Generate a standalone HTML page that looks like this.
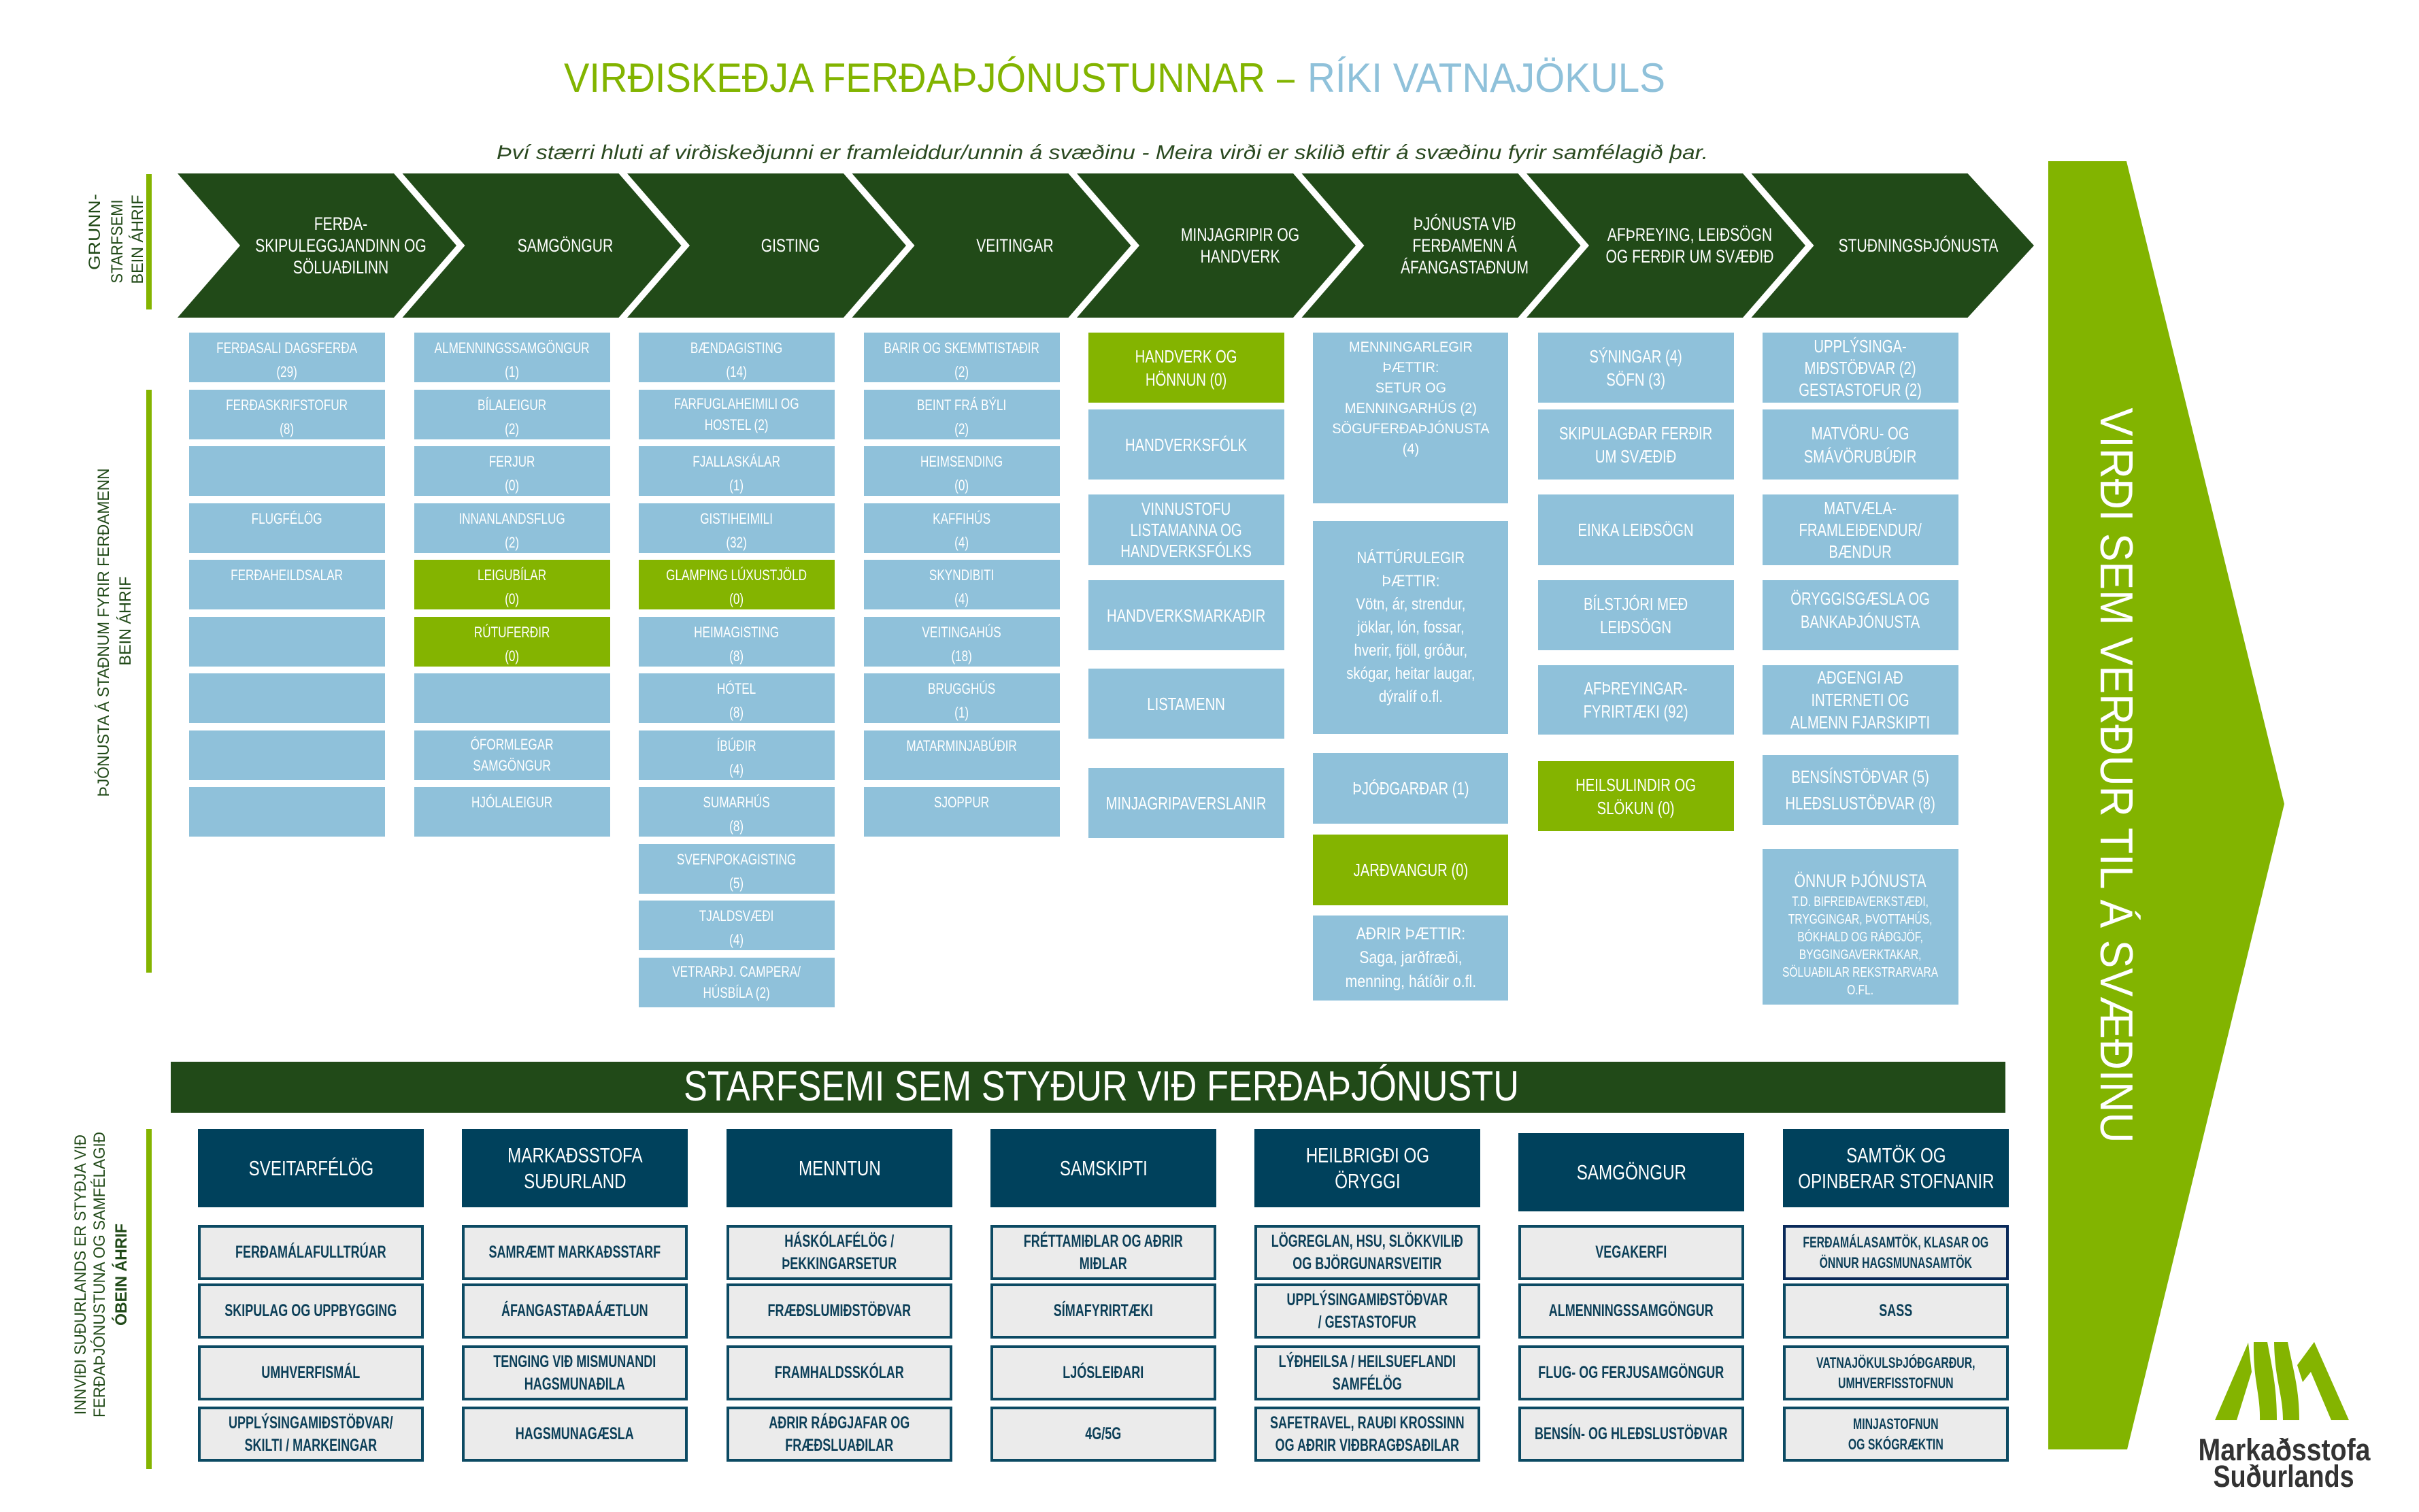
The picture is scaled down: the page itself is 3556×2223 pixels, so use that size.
<!DOCTYPE html>
<html><head><meta charset="utf-8">
<style>
html,body{margin:0;padding:0;background:#fff}
body{width:3556px;height:2223px;position:relative;overflow:hidden;font-family:"Liberation Sans",sans-serif}
svg{position:absolute;left:0;top:0}
.b{position:absolute;display:flex;justify-content:center;align-items:center;color:#fff;text-align:center;white-space:nowrap;box-sizing:border-box}
.b>span{flex:none;width:140%;display:block;transform:scaleX(.78)}
.lb{background:#8fc1da}
.gr{background:#84b400}
.s{align-items:flex-start;font-size:22px;line-height:35px;padding-top:5px;height:73px;width:288px}
.s.c{align-items:center;padding-top:0;line-height:31px}
.m{font-size:26px;line-height:34px;width:288px}
.ch{font-size:27px;line-height:32px;width:300px;height:160px;top:281px}
.hd{background:#00415c;font-size:31px;line-height:38px;width:332px;height:115px;top:1660px}
.sb{background:#ebebeb;border:4px solid #0c4a63;color:#0c3f58;font-size:25px;font-weight:bold;line-height:33px;width:332px;height:81px}
.sb>span{transform:scaleX(.72)}
</style></head><body>
<svg width="3556" height="2223" viewBox="0 0 3556 2223">
<text x="829" y="135" font-size="60" fill="#82b400" textLength="1031" lengthAdjust="spacingAndGlyphs">VIRÐISKEÐJA FERÐAÞJÓNUSTUNNAR</text>
<text x="1877" y="135" font-size="60" fill="#82b400" textLength="26" lengthAdjust="spacingAndGlyphs">–</text>
<text x="1922" y="135" font-size="60" fill="#8fc1da" textLength="526" lengthAdjust="spacingAndGlyphs">RÍKI VATNAJÖKULS</text>
<text x="730" y="234" font-size="30" font-style="italic" fill="#2b4a21" textLength="1781" lengthAdjust="spacingAndGlyphs">Því stærri hluti af virðiskeðjunni er framleiddur/unnin á svæðinu - Meira virði er skilið eftir á svæðinu fyrir samfélagið þar.</text>
<g fill="#214a18">
<polygon points="261,255 579,255 671,361 579,467 261,467 353,361"/>
<polygon points="591.5,255 909.5,255 1001.5,361 909.5,467 591.5,467 683.5,361"/>
<polygon points="922,255 1240,255 1332,361 1240,467 922,467 1014,361"/>
<polygon points="1252.5,255 1570.5,255 1662.5,361 1570.5,467 1252.5,467 1344.5,361"/>
<polygon points="1583,255 1901,255 1993,361 1901,467 1583,467 1675,361"/>
<polygon points="1913.5,255 2231.5,255 2323.5,361 2231.5,467 1913.5,467 2005.5,361"/>
<polygon points="2244,255 2562,255 2654,361 2562,467 2244,467 2336,361"/>
<polygon points="2574.5,255 2892.5,255 2990,361 2892.5,467 2574.5,467 2666.5,361"/>
</g>
<polygon points="3011,237 3126,237 3358,1182 3127,2131 3011,2131" fill="#82b400"/>
<text transform="translate(3088,1140) rotate(90)" text-anchor="middle" font-size="68" fill="#fff" textLength="1081" lengthAdjust="spacingAndGlyphs">VIRÐI SEM VERÐUR TIL Á SVÆÐINU</text>
<g fill="#84b400">
<rect x="215" y="256" width="8" height="199"/>
<rect x="215" y="573" width="8" height="857"/>
<rect x="215" y="1660" width="8" height="500"/>
</g>
<g fill="#214a18" font-size="24">
<text transform="translate(147,341) rotate(-90)" text-anchor="middle" textLength="112" lengthAdjust="spacingAndGlyphs">GRUNN-</text>
<text transform="translate(180,355) rotate(-90)" text-anchor="middle" textLength="123" lengthAdjust="spacingAndGlyphs">STARFSEMI</text>
<text transform="translate(210,352) rotate(-90)" text-anchor="middle" textLength="131" lengthAdjust="spacingAndGlyphs">BEIN ÁHRIF</text>
<text transform="translate(160,930) rotate(-90)" text-anchor="middle" textLength="483" lengthAdjust="spacingAndGlyphs">ÞJÓNUSTA Á STAÐNUM FYRIR FERÐAMENN</text>
<text transform="translate(192,913) rotate(-90)" text-anchor="middle" textLength="131" lengthAdjust="spacingAndGlyphs">BEIN ÁHRIF</text>
<text transform="translate(126,1874) rotate(-90)" text-anchor="middle" textLength="412" lengthAdjust="spacingAndGlyphs">INNVIÐI SUÐURLANDS ER STYÐJA VIÐ</text>
<text transform="translate(154,1874) rotate(-90)" text-anchor="middle" textLength="420" lengthAdjust="spacingAndGlyphs">FERÐAÞJÓNUSTUNA OG SAMFÉLAGIÐ</text>
<text transform="translate(186,1874) rotate(-90)" text-anchor="middle" font-weight="bold" textLength="150" lengthAdjust="spacingAndGlyphs">ÓBEIN ÁHRIF</text>
</g>
<rect x="251" y="1561" width="2697" height="75" fill="#214a18"/>
<text x="1619" y="1618" text-anchor="middle" font-size="62" fill="#fff" textLength="1228" lengthAdjust="spacingAndGlyphs">STARFSEMI SEM STYÐUR VIÐ FERÐAÞJÓNUSTU</text>
<g fill="#84b400">
<polygon points="3256,2088 3305,1974 3310,2017 3288,2088"/>
<path d="M3313,1973 L3333,1973 C3340,2010 3347,2040 3347,2088 L3322,2088 C3323,2050 3312,2030 3313,1973 Z"/>
<path d="M3343,1973 L3363,1973 C3370,2010 3380,2040 3380,2088 L3356,2088 C3356,2050 3344,2030 3343,1973 Z"/>
<polygon points="3377,2007 3402,1973 3453,2088 3427,2088 3397,2017 3385,2032"/>
</g>
<text x="3358" y="2147" text-anchor="middle" font-size="45" font-weight="bold" fill="#333" textLength="253" lengthAdjust="spacingAndGlyphs">Markaðsstofa</text>
<text x="3357" y="2186" text-anchor="middle" font-size="45" font-weight="bold" fill="#333" textLength="207" lengthAdjust="spacingAndGlyphs">Suðurlands</text>
</svg>

<div class="b ch" style="left:351px"><span>FERÐA-<br>SKIPULEGGJANDINN OG<br>SÖLUAÐILINN</span></div>
<div class="b ch" style="left:681px"><span>SAMGÖNGUR</span></div>
<div class="b ch" style="left:1012px"><span>GISTING</span></div>
<div class="b ch" style="left:1342px"><span>VEITINGAR</span></div>
<div class="b ch" style="left:1673px"><span>MINJAGRIPIR OG<br>HANDVERK</span></div>
<div class="b ch" style="left:2003px"><span>ÞJÓNUSTA VIÐ<br>FERÐAMENN Á<br>ÁFANGASTAÐNUM</span></div>
<div class="b ch" style="left:2334px"><span>AFÞREYING, LEIÐSÖGN<br>OG FERÐIR UM SVÆÐIÐ</span></div>
<div class="b ch" style="left:2670px"><span>STUÐNINGSÞJÓNUSTA</span></div>

<div class="b s lb" style="left:278px;top:489px"><span>FERÐASALI DAGSFERÐA<br>(29)</span></div>
<div class="b s lb" style="left:278px;top:572.5px"><span>FERÐASKRIFSTOFUR<br>(8)</span></div>
<div class="b s lb" style="left:278px;top:656px"><span></span></div>
<div class="b s lb" style="left:278px;top:739.5px"><span>FLUGFÉLÖG</span></div>
<div class="b s lb" style="left:278px;top:823px"><span>FERÐAHEILDSALAR</span></div>
<div class="b s lb" style="left:278px;top:906.5px"><span></span></div>
<div class="b s lb" style="left:278px;top:990px"><span></span></div>
<div class="b s lb" style="left:278px;top:1073.5px"><span></span></div>
<div class="b s lb" style="left:278px;top:1157px"><span></span></div>

<div class="b s lb" style="left:608.5px;top:489px"><span>ALMENNINGSSAMGÖNGUR<br>(1)</span></div>
<div class="b s lb" style="left:608.5px;top:572.5px"><span>BÍLALEIGUR<br>(2)</span></div>
<div class="b s lb" style="left:608.5px;top:656px"><span>FERJUR<br>(0)</span></div>
<div class="b s lb" style="left:608.5px;top:739.5px"><span>INNANLANDSFLUG<br>(2)</span></div>
<div class="b s gr" style="left:608.5px;top:823px"><span>LEIGUBÍLAR<br>(0)</span></div>
<div class="b s gr" style="left:608.5px;top:906.5px"><span>RÚTUFERÐIR<br>(0)</span></div>
<div class="b s lb" style="left:608.5px;top:990px"><span></span></div>
<div class="b s c lb" style="left:608.5px;top:1073.5px"><span>ÓFORMLEGAR<br>SAMGÖNGUR</span></div>
<div class="b s lb" style="left:608.5px;top:1157px"><span>HJÓLALEIGUR</span></div>

<div class="b s lb" style="left:939px;top:489px"><span>BÆNDAGISTING<br>(14)</span></div>
<div class="b s c lb" style="left:939px;top:572.5px;align-items:flex-start;padding-top:5px"><span>FARFUGLAHEIMILI OG<br>HOSTEL (2)</span></div>
<div class="b s lb" style="left:939px;top:656px"><span>FJALLASKÁLAR<br>(1)</span></div>
<div class="b s lb" style="left:939px;top:739.5px"><span>GISTIHEIMILI<br>(32)</span></div>
<div class="b s gr" style="left:939px;top:823px"><span>GLAMPING LÚXUSTJÖLD<br>(0)</span></div>
<div class="b s lb" style="left:939px;top:906.5px"><span>HEIMAGISTING<br>(8)</span></div>
<div class="b s lb" style="left:939px;top:990px"><span>HÓTEL<br>(8)</span></div>
<div class="b s lb" style="left:939px;top:1073.5px"><span>ÍBÚÐIR<br>(4)</span></div>
<div class="b s lb" style="left:939px;top:1157px"><span>SUMARHÚS<br>(8)</span></div>
<div class="b s lb" style="left:939px;top:1240.5px"><span>SVEFNPOKAGISTING<br>(5)</span></div>
<div class="b s lb" style="left:939px;top:1324px"><span>TJALDSVÆÐI<br>(4)</span></div>
<div class="b s c lb" style="left:939px;top:1407.5px"><span>VETRARÞJ. CAMPERA/<br>HÚSBÍLA (2)</span></div>

<div class="b s lb" style="left:1269.5px;top:489px"><span>BARIR OG SKEMMTISTAÐIR<br>(2)</span></div>
<div class="b s lb" style="left:1269.5px;top:572.5px"><span>BEINT FRÁ BÝLI<br>(2)</span></div>
<div class="b s lb" style="left:1269.5px;top:656px"><span>HEIMSENDING<br>(0)</span></div>
<div class="b s lb" style="left:1269.5px;top:739.5px"><span>KAFFIHÚS<br>(4)</span></div>
<div class="b s lb" style="left:1269.5px;top:823px"><span>SKYNDIBITI<br>(4)</span></div>
<div class="b s lb" style="left:1269.5px;top:906.5px"><span>VEITINGAHÚS<br>(18)</span></div>
<div class="b s lb" style="left:1269.5px;top:990px"><span>BRUGGHÚS<br>(1)</span></div>
<div class="b s lb" style="left:1269.5px;top:1073.5px"><span>MATARMINJABÚÐIR</span></div>
<div class="b s lb" style="left:1269.5px;top:1157px"><span>SJOPPUR</span></div>

<div class="b m gr" style="left:1600px;top:489px;height:103px"><span>HANDVERK OG<br>HÖNNUN (0)</span></div>
<div class="b m lb" style="left:1600px;top:602px;height:103px"><span>HANDVERKSFÓLK</span></div>
<div class="b m lb" style="left:1600px;top:727px;height:104px;line-height:31px"><span>VINNUSTOFU<br>LISTAMANNA OG<br>HANDVERKSFÓLKS</span></div>
<div class="b m lb" style="left:1600px;top:853px;height:103px"><span>HANDVERKSMARKAÐIR</span></div>
<div class="b m lb" style="left:1600px;top:983px;height:103px"><span>LISTAMENN</span></div>
<div class="b m lb" style="left:1600px;top:1129px;height:103px"><span>MINJAGRIPAVERSLANIR</span></div>

<div class="b lb" style="left:1930px;top:489px;width:287px;height:251px;align-items:flex-start;padding-top:7px;font-size:21px;line-height:30px"><span style="transform:scaleX(.95)">MENNINGARLEGIR<br>ÞÆTTIR:<br>SETUR OG<br>MENNINGARHÚS (2)<br>SÖGUFERÐAÞJÓNUSTA<br>(4)</span></div>
<div class="b lb" style="left:1930px;top:766px;width:287px;height:313px;font-size:24px;line-height:34px"><span style="transform:scaleX(.85)">NÁTTÚRULEGIR<br>ÞÆTTIR:<br>Vötn, ár, strendur,<br>jöklar, lón, fossar,<br>hverir, fjöll, gróður,<br>skógar, heitar laugar,<br>dýralíf o.fl.</span></div>
<div class="b m lb" style="left:1930px;top:1107px;height:104px;width:287px"><span>ÞJÓÐGARÐAR (1)</span></div>
<div class="b m gr" style="left:1930px;top:1227px;height:104px;width:287px"><span>JARÐVANGUR (0)</span></div>
<div class="b lb" style="left:1930px;top:1346px;width:287px;height:125px;font-size:25px;line-height:35px"><span style="transform:scaleX(.85)">AÐRIR ÞÆTTIR:<br>Saga, jarðfræði,<br>menning, hátíðir o.fl.</span></div>

<div class="b m lb" style="left:2261px;top:489px;height:103px"><span>SÝNINGAR (4)<br>SÖFN (3)</span></div>
<div class="b m lb" style="left:2261px;top:602px;height:103px"><span>SKIPULAGÐAR FERÐIR<br>UM SVÆÐIÐ</span></div>
<div class="b m lb" style="left:2261px;top:727px;height:104px"><span>EINKA LEIÐSÖGN</span></div>
<div class="b m lb" style="left:2261px;top:853px;height:103px"><span>BÍLSTJÓRI MEÐ<br>LEIÐSÖGN</span></div>
<div class="b m lb" style="left:2261px;top:978px;height:102px"><span>AFÞREYINGAR-<br>FYRIRTÆKI (92)</span></div>
<div class="b m gr" style="left:2261px;top:1119px;height:103px"><span>HEILSULINDIR OG<br>SLÖKUN (0)</span></div>

<div class="b m lb" style="left:2591px;top:489px;height:103px;line-height:32px"><span>UPPLÝSINGA-<br>MIÐSTÖÐVAR (2)<br>GESTASTOFUR (2)</span></div>
<div class="b m lb" style="left:2591px;top:602px;height:103px"><span>MATVÖRU- OG<br>SMÁVÖRUBÚÐIR</span></div>
<div class="b m lb" style="left:2591px;top:727px;height:104px;line-height:32px"><span>MATVÆLA-<br>FRAMLEIÐENDUR/<br>BÆNDUR</span></div>
<div class="b m lb" style="left:2591px;top:853px;height:103px;align-items:flex-start;padding-top:10px"><span>ÖRYGGISGÆSLA OG<br>BANKAÞJÓNUSTA</span></div>
<div class="b m lb" style="left:2591px;top:978px;height:102px;line-height:33px"><span>AÐGENGI AÐ<br>INTERNETI OG<br>ALMENN FJARSKIPTI</span></div>
<div class="b m lb" style="left:2591px;top:1110px;height:103px;line-height:39px"><span>BENSÍNSTÖÐVAR (5)<br>HLEÐSLUSTÖÐVAR (8)</span></div>
<div class="b lb" style="left:2591px;top:1248px;width:288px;height:229px;font-size:20px;line-height:26px;padding-top:20px"><span><span style="font-size:27px;line-height:36px">ÖNNUR ÞJÓNUSTA</span><br>T.D. BIFREIÐAVERKSTÆÐI,<br>TRYGGINGAR, ÞVOTTAHÚS,<br>BÓKHALD OG RÁÐGJÖF,<br>BYGGINGAVERKTAKAR,<br>SÖLUAÐILAR REKSTRARVARA<br>O.FL.</span></div>

<div class="b hd" style="left:291px"><span>SVEITARFÉLÖG</span></div>
<div class="b hd" style="left:679px"><span>MARKAÐSSTOFA<br>SUÐURLAND</span></div>
<div class="b hd" style="left:1068px"><span>MENNTUN</span></div>
<div class="b hd" style="left:1456px"><span>SAMSKIPTI</span></div>
<div class="b hd" style="left:1844px"><span>HEILBRIGÐI OG<br>ÖRYGGI</span></div>
<div class="b hd" style="left:2232px;top:1666px"><span>SAMGÖNGUR</span></div>
<div class="b hd" style="left:2621px"><span>SAMTÖK OG<br>OPINBERAR STOFNANIR</span></div>

<div class="b sb" style="left:291px;top:1801px"><span>FERÐAMÁLAFULLTRÚAR</span></div>
<div class="b sb" style="left:291px;top:1887px"><span>SKIPULAG OG UPPBYGGING</span></div>
<div class="b sb" style="left:291px;top:1978px"><span>UMHVERFISMÁL</span></div>
<div class="b sb" style="left:291px;top:2068px"><span>UPPLÝSINGAMIÐSTÖÐVAR/<br>SKILTI / MARKEINGAR</span></div>

<div class="b sb" style="left:679px;top:1801px"><span>SAMRÆMT MARKAÐSSTARF</span></div>
<div class="b sb" style="left:679px;top:1887px"><span>ÁFANGASTAÐAÁÆTLUN</span></div>
<div class="b sb" style="left:679px;top:1978px"><span>TENGING VIÐ MISMUNANDI<br>HAGSMUNAÐILA</span></div>
<div class="b sb" style="left:679px;top:2068px"><span>HAGSMUNAGÆSLA</span></div>

<div class="b sb" style="left:1068px;top:1801px"><span>HÁSKÓLAFÉLÖG /<br>ÞEKKINGARSETUR</span></div>
<div class="b sb" style="left:1068px;top:1887px"><span>FRÆÐSLUMIÐSTÖÐVAR</span></div>
<div class="b sb" style="left:1068px;top:1978px"><span>FRAMHALDSSKÓLAR</span></div>
<div class="b sb" style="left:1068px;top:2068px"><span>AÐRIR RÁÐGJAFAR OG<br>FRÆÐSLUAÐILAR</span></div>

<div class="b sb" style="left:1456px;top:1801px"><span>FRÉTTAMIÐLAR OG AÐRIR<br>MIÐLAR</span></div>
<div class="b sb" style="left:1456px;top:1887px"><span>SÍMAFYRIRTÆKI</span></div>
<div class="b sb" style="left:1456px;top:1978px"><span>LJÓSLEIÐARI</span></div>
<div class="b sb" style="left:1456px;top:2068px"><span>4G/5G</span></div>

<div class="b sb" style="left:1844px;top:1801px"><span>LÖGREGLAN, HSU, SLÖKKVILIÐ<br>OG BJÖRGUNARSVEITIR</span></div>
<div class="b sb" style="left:1844px;top:1887px"><span>UPPLÝSINGAMIÐSTÖÐVAR<br>/ GESTASTOFUR</span></div>
<div class="b sb" style="left:1844px;top:1978px"><span>LÝÐHEILSA / HEILSUEFLANDI<br>SAMFÉLÖG</span></div>
<div class="b sb" style="left:1844px;top:2068px"><span>SAFETRAVEL, RAUÐI KROSSINN<br>OG AÐRIR VIÐBRAGÐSAÐILAR</span></div>

<div class="b sb" style="left:2232px;top:1801px"><span>VEGAKERFI</span></div>
<div class="b sb" style="left:2232px;top:1887px"><span>ALMENNINGSSAMGÖNGUR</span></div>
<div class="b sb" style="left:2232px;top:1978px"><span>FLUG- OG FERJUSAMGÖNGUR</span></div>
<div class="b sb" style="left:2232px;top:2068px"><span>BENSÍN- OG HLEÐSLUSTÖÐVAR</span></div>

<div class="b sb" style="left:2621px;top:1801px;font-size:22px;line-height:30px;border-color:#0a2a5a"><span>FERÐAMÁLASAMTÖK, KLASAR OG<br>ÖNNUR HAGSMUNASAMTÖK</span></div>
<div class="b sb" style="left:2621px;top:1887px"><span>SASS</span></div>
<div class="b sb" style="left:2621px;top:1978px;font-size:22px;line-height:30px"><span>VATNAJÖKULSÞJÓÐGARÐUR,<br>UMHVERFISSTOFNUN</span></div>
<div class="b sb" style="left:2621px;top:2068px;font-size:22px;line-height:30px"><span>MINJASTOFNUN<br>OG SKÓGRÆKTIN</span></div>
</body></html>
